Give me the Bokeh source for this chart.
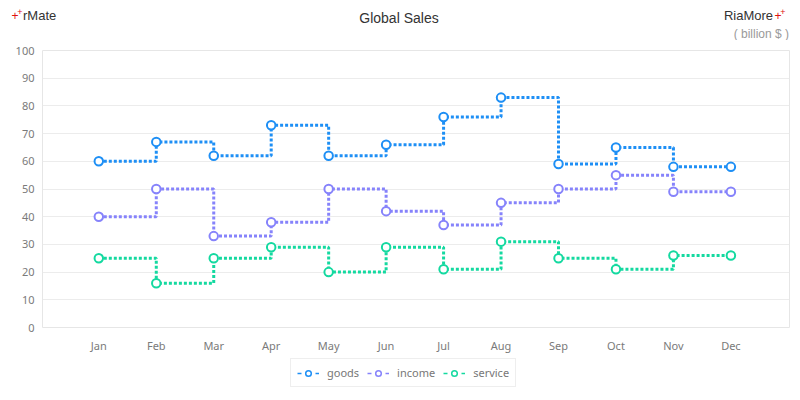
from bokeh.plotting import figure
from bokeh.layouts import column
from bokeh.models import Range1d, FixedTicker, Legend, LegendItem, Div
from bokeh.embed import file_html
from bokeh.resources import INLINE

months = ["Jan", "Feb", "Mar", "Apr", "May", "Jun", "Jul", "Aug", "Sep", "Oct", "Nov", "Dec"]
goods = [60, 67, 62, 73, 62, 66, 76, 83, 59, 65, 58, 58]
income = [40, 50, 33, 38, 50, 42, 37, 45, 50, 55, 49, 49]
service = [25, 16, 25, 29, 20, 29, 21, 31, 25, 21, 26, 26]
y_ticks = list(range(0, 101, 10))

series = [("goods", goods, "#1e8ff5"), ("income", income, "#8683fb"), ("service", service, "#14d9a0")]
xs = list(range(len(months)))
FONT = "Noto Sans"

# ---------- header (title texts) ----------
def t(x, y, s, color, size, anchor="start"):
    return (f'<text x="{x}" y="{y}" fill="{color}" font-size="{size}" text-anchor="{anchor}" '
            f'dominant-baseline="central" font-family="{FONT}">{s}</text>')

header_svg = ('<svg xmlns="http://www.w3.org/2000/svg" width="800" height="40">'
              + t(15, 16, "+", "#e01010", "12px", "middle")
              + t(20, 12, "+", "#e01010", "9px", "middle")
              + t(23, 15, "rMate", "#333333", "13px")
              + t(399, 18, "Global Sales", "#333333", "14px", "middle")
              + t(773, 15, "RiaMore", "#333333", "13px", "end")
              + t(778, 16, "+", "#e01010", "12px", "middle")
              + t(783, 12, "+", "#e01010", "9px", "middle")
              + t(789, 34, "( billion $ )", "#9a9a9a", "12px", "end")
              + '</svg>')
header = Div(text=header_svg, width=800, height=40, margin=0)

# ---------- main chart ----------
p = figure(frame_width=747, frame_height=277, output_backend="svg", toolbar_location=None,
           x_range=Range1d(-0.98, 12.02), y_range=Range1d(0, 100),
           min_border_left=42, min_border_right=11, min_border_top=10, min_border_bottom=30)
p.outline_line_color = "#e6e6e6"
p.xgrid.grid_line_color = None
p.ygrid.grid_line_color = "#ececec"
p.yaxis.ticker = FixedTicker(ticks=y_ticks)
p.xaxis.ticker = FixedTicker(ticks=xs)
p.xaxis.major_label_overrides = {i: m for i, m in enumerate(months)}
for ax in (p.xaxis[0], p.yaxis[0]):
    ax.axis_line_color = None
    ax.major_tick_line_color = None
    ax.minor_tick_line_color = None
    ax.major_tick_in = 0
    ax.major_tick_out = 0
    ax.major_label_text_color = "#7a7a7a"
    ax.major_label_text_font = FONT
    ax.major_label_text_font_size = "11px"
p.yaxis.major_label_standoff = 8
p.xaxis.major_label_standoff = 10

for name, vals, col in series:
    p.step(xs, vals, mode="after", line_color=col, line_width=3, line_dash="3 2")
    p.scatter(xs, vals, size=8.5, marker="circle", fill_color="white", line_color=col, line_width=2)

# ---------- legend strip ----------
lg = figure(frame_width=747, frame_height=43, output_backend="svg", toolbar_location=None,
            x_range=Range1d(-100, -99), y_range=Range1d(-100, -99),
            x_axis_location=None, y_axis_location=None,
            min_border_left=42, min_border_right=11, min_border_top=0, min_border_bottom=0)
lg.outline_line_color = None
lg.grid.grid_line_color = None
items = []
for name, vals, col in series:
    r1 = lg.step(xs, vals, mode="after", line_color=col, line_width=1.5, line_dash="4 14")
    r2 = lg.scatter(xs, vals, size=8, marker="circle", fill_color="white", line_color=col, line_width=1.5)
    items.append(LegendItem(label=name, renderers=[r1, r2]))
leg = Legend(items=items, orientation="horizontal", location=(248, 13),
             label_text_font=FONT, label_text_font_size="11px", label_text_color="#777777",
             border_line_color="#dddddd", glyph_width=22, glyph_height=14,
             spacing=8, padding=6, margin=0, label_standoff=8, label_height=14)
lg.add_layout(leg, "center")

open("out.html", "w").write(file_html(column(header, p, lg, spacing=0), INLINE))
